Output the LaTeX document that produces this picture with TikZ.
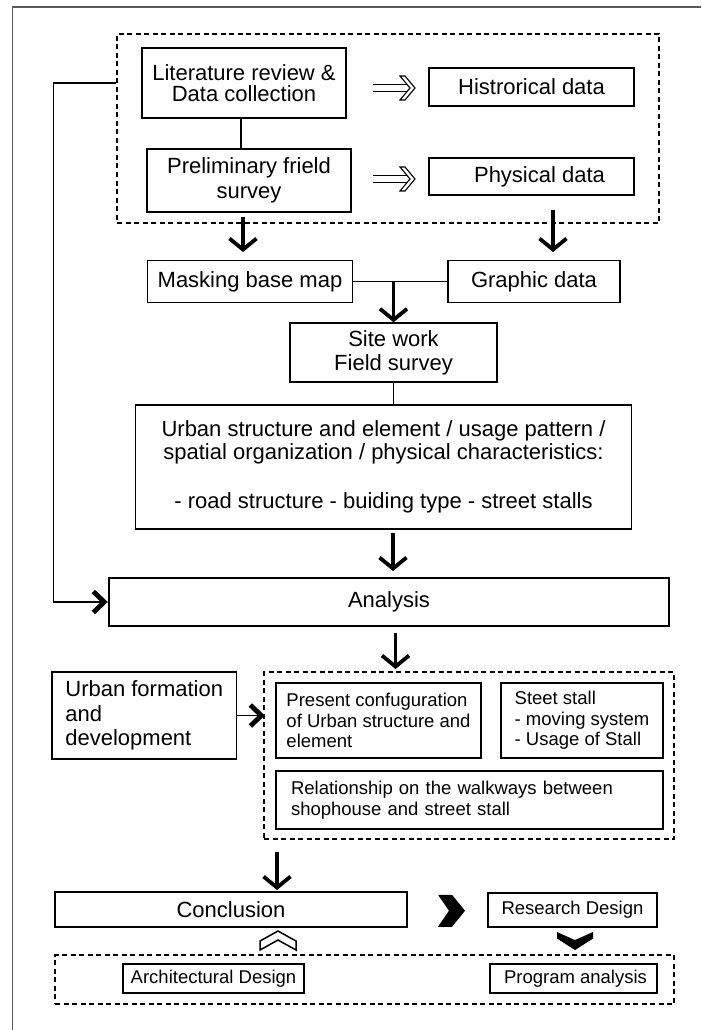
\documentclass[tikz,border=0pt]{standalone}
\usepackage{fontspec}
\setmainfont{Liberation Sans}
\usetikzlibrary{arrows.meta,calc}
\begin{document}
\begin{tikzpicture}[x=1pt,y=-1pt,
  box/.style={draw, line width=1.4pt, inner sep=0pt, align=center, font=\fontsize{22}{23.5}\selectfont},
  sbox/.style={box, font=\fontsize{18.5}{20.5}\selectfont},
  dbox/.style={draw, line width=1.3pt, dash pattern=on 5pt off 3.5pt, inner sep=0pt},
  conn/.style={line width=1.3pt},
  bigarr/.style={line width=3.8pt, -{Straight Barb[length=11pt,width=27pt]}},
  barbhead/.style={line width=4.8pt, line join=miter, line cap=butt},
  dblshaft/.style={line width=1.1pt},
  dblhead/.style={line width=1.1pt, fill=white, line join=miter},
]
\useasboundingbox (0,0) rectangle (701,1030);
% page border
\draw[black!65, line width=1.2pt] (12.7,1030) -- (12.7,7) -- (701,7);

% top group
\node[dbox, minimum width=542, minimum height=189] (g1) at (388,128.5) {};
\node[box, minimum width=204, minimum height=70, font=\fontsize{22}{21.5}\selectfont] (lit) at (244,83) {Literature review \&\\Data collection};
\node[box, minimum width=205, minimum height=38] (hist) at (531.5,87) {Histrorical data};
\node[box, minimum width=204, minimum height=63, font=\fontsize{22}{25}\selectfont] (prelim) at (249,180.5) {Preliminary frield\\survey};
\node[box, minimum width=205, minimum height=37] (phys) at (531.5,176.5) {\hspace*{16pt}Physical data};
\draw[conn] ([xshift=-3pt]lit.south) -- ([xshift=-3pt]lit.south |- prelim.north);
% double (implies) arrows
\coordinate (d1a) at (373,88);
\coordinate (d2a) at (373,179);
\foreach \c in {d1a,d2a}{
  \draw[dblshaft, shift={(\c)}] (0,-3.5) -- (36,-3.5) (0,3.5) -- (36,3.5);
  \draw[dblhead, shift={(\c)}] (27,-12) -- (32,-12) -- (42,0) -- (32,12) -- (27,12) -- (37,0) -- cycle;
}

% arrows out of the group
\coordinate (a1s) at (243,217); \coordinate (a1e) at (243,252);
\coordinate (a2s) at (553,210); \coordinate (a2e) at (553,252);
\draw[bigarr] (a1s) -- (a1e);
\draw[bigarr] (a2s) -- (a2e);

\node[box, minimum width=204.5, minimum height=41.5] (mask) at (250,281.5) {Masking base map};
\node[box, minimum width=172, minimum height=41.5] (graphic) at (534,281.5) {Graphic data};
\draw[conn] (mask.east) -- (graphic.west);

\node[box, minimum width=207, minimum height=59, font=\fontsize{22}{24}\selectfont] (site) at (393.5,352.5) {Site work\\Field survey};
\draw[bigarr] (site.north |- mask.east) -- (site.north);

\node[box, minimum width=496, minimum height=124, font=\fontsize{22}{23}\selectfont] (urban) at (383.5,467) {Urban structure and element / usage pattern /\\spatial organization / physical characteristics:\\[26pt]- road structure - buiding type - street stalls};
\draw[conn] (site.south) -- (site.south |- urban.north);

\node[box, minimum width=560, minimum height=48] (analysis) at (389,602) {Analysis};
\coordinate (a3s) at (393,533); \coordinate (a3e) at (393,571);
\draw[bigarr] (a3s) -- (a3e);

% feedback line
\draw[conn] (g1.west |- lit.center) -- ++(-63,0) |- ([xshift=-3pt]analysis.west);
\draw[barbhead] ($(analysis.west)+(-15,-10.5)$) -- ($(analysis.west)+(-4,0)$) -- ($(analysis.west)+(-15,10.5)$);

% middle group
\coordinate (a4s) at (395.5,633); \coordinate (a4e) at (395.5,669);
\draw[bigarr] (a4s) -- (a4e);
\node[dbox, minimum width=410, minimum height=167] (g2) at (469,755.5) {};
\node[box, align=left, minimum width=184.5, minimum height=87, font=\fontsize{22}{24.5}\selectfont] (uform) at (144.25,715.5) {Urban formation\\and\\development};
\coordinate (ufe) at (uform.east -| g2.west);
\draw[conn] (uform.east) -- ([xshift=-3pt]ufe);
\draw[barbhead] ($(ufe)+(-13,-10.5)$) -- ($(ufe)+(-2,0)$) -- ($(ufe)+(-13,10.5)$);
\node[sbox, align=left, minimum width=205, minimum height=75] (present) at (378.5,720.5) {Present confuguration\\of Urban structure and\\element};
\node[sbox, align=left, minimum width=162, minimum height=75] (steet) at (582,720.5) {Steet stall\\- moving system\\- Usage of Stall};
\node[sbox, align=left, text width=357, inner xsep=15, minimum height=58] (relat) at (469.5,800) {Relationship on the walkways between\\shophouse and street stall};

% bottom part
\coordinate (a5s) at (277,852); \coordinate (a5e) at (277,890);
\draw[bigarr] (a5s) -- (a5e);
\node[box, minimum width=352, minimum height=35] (concl) at (231,909.5) {Conclusion};
\node[sbox, minimum width=169, minimum height=34] (rd) at (572.5,910) {Research Design};
\node[dbox, minimum width=619, minimum height=49] (g3) at (364.5,979.5) {};
\node[sbox, minimum width=181, minimum height=29] (arch) at (213.5,978.5) {Architectural Design};
\node[sbox, minimum width=167, minimum height=29] (prog) at (573.5,978.5) {\hspace*{4pt}Program analysis};

% chevrons
\coordinate (chr) at ($(concl.east)!0.5!(rd.west)+(4,1)$);
\fill[shift={(chr)}] (-13.5,-16) -- (0.5,-16) -- (13.5,0) -- (0.5,16) -- (-13.5,16) -- (-2.5,0) -- cycle;
\coordinate (chd) at ($(rd.south)!0.5!(rd.south |- g3.north)+(2.5,0)$);
\fill[shift={(chd)}] (-18,-9) -- (0,-1) -- (18,-9) -- (18,-2.5) -- (0,9) -- (-18,-2.5) -- cycle;
\coordinate (chu) at (278,941);
\draw[line width=1.5pt, fill=white, line join=miter, shift={(chu)}] (-18,0) -- (0,-10) -- (18,0) -- (18,9) -- (0,-1) -- (-18,9) -- cycle;
\end{tikzpicture}
\end{document}
